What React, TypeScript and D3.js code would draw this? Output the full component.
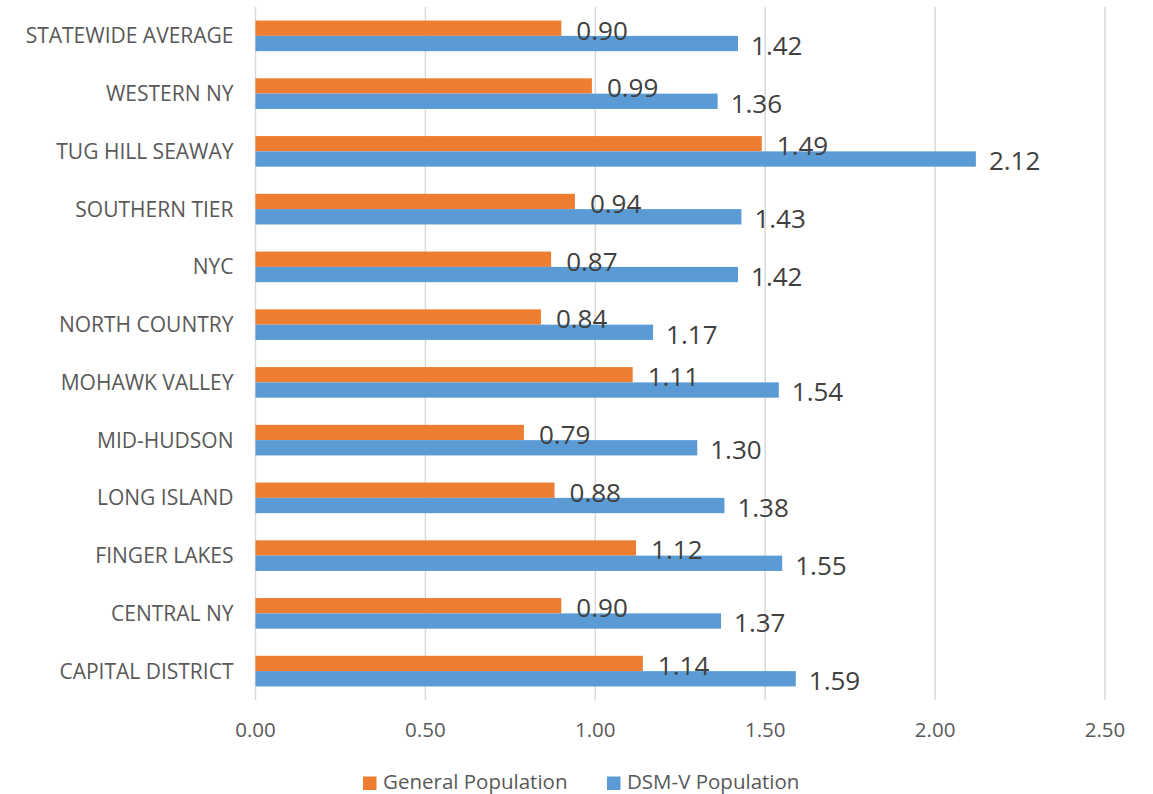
import * as React from 'react';
import * as d3 from 'd3';

const regions = ['STATEWIDE AVERAGE', 'WESTERN NY', 'TUG HILL SEAWAY', 'SOUTHERN TIER', 'NYC',
  'NORTH COUNTRY', 'MOHAWK VALLEY', 'MID-HUDSON', 'LONG ISLAND', 'FINGER LAKES',
  'CENTRAL NY', 'CAPITAL DISTRICT'];
const generalPop = [0.90, 0.99, 1.49, 0.94, 0.87, 0.84, 1.11, 0.79, 0.88, 1.12, 0.90, 1.14];
const dsmPop = [1.42, 1.36, 2.12, 1.43, 1.42, 1.17, 1.54, 1.30, 1.38, 1.55, 1.37, 1.59];
const xTicks = [0, 0.5, 1, 1.5, 2, 2.5];
const seriesNames = ['General Population', 'DSM-V Population'];
const colors = ['#ED7D31', '#5B9BD5'];

export default function App() {
  const width = 1153;
  const height = 794;
  const margin = {top: 7, right: 48, bottom: 94, left: 255.5};
  const innerW = width - margin.left - margin.right;
  const innerH = height - margin.top - margin.bottom;
  const font = '"Open Sans", "Noto Sans", sans-serif';

  const x = d3.scaleLinear().domain([0, 2.5]).range([0, innerW]);
  const y = d3.scaleBand().domain(regions).range([0, innerH]).paddingInner(0.47).paddingOuter(0.235);
  const sub = d3.scaleBand().domain(seriesNames).range([0, y.bandwidth()]);
  const fmt = d3.format('.2f');
  const series = [generalPop, dsmPop];

  // baseline shift so digits/caps sit centred on the target line
  const capMid = (fs: number) => fs * 0.357;

  return (
    <svg width={width} height={height} style={{position: 'absolute', left: 0, top: 0, fontFamily: font}}>
      <g transform={`translate(${margin.left},${margin.top})`}>
        {xTicks.map(t => (
          <g key={t}>
            <line x1={x(t)} x2={x(t)} y1={0} y2={innerH} stroke="#D9D9D9" strokeWidth={1.5} />
            <text x={x(t)} y={innerH + 30 + capMid(20.5)} textAnchor="middle"
              fill="#595959" fontSize={20.5}>{fmt(t)}</text>
          </g>
        ))}
        {regions.map((r, i) => (
          <g key={r} transform={`translate(0,${y(r)})`}>
            <text x={-22} y={y.bandwidth() / 2 + capMid(21)} textAnchor="end"
              fill="#595959" fontSize={21}>{r}</text>
            {series.map((s, j) => (
              <rect key={j} x={0} y={sub(seriesNames[j])} width={x(s[i])} height={sub.bandwidth()}
                fill={colors[j]} />
            ))}
          </g>
        ))}
        {regions.map((r, i) => (
          <g key={r + '-lbl'} transform={`translate(0,${y(r)})`}>
            {series.map((s, j) => (
              <text key={j} x={x(s[i]) + (j === 0 ? 15 : 13)}
                y={sub(seriesNames[j]) + sub.bandwidth() / 2 + 2 + capMid(26)}
                fill="#404040" fontSize={26}>{fmt(s[i])}</text>
            ))}
          </g>
        ))}
      </g>
      <g transform="translate(363,776.5)">
        {seriesNames.map((n, j) => (
          <g key={n} transform={`translate(${j * 244},0)`}>
            <rect width={13.5} height={13.5} fill={colors[j]} />
            <text x={20} y={5.5 + capMid(20.5)} fill="#595959" fontSize={20.5}>{n}</text>
          </g>
        ))}
      </g>
    </svg>
  );
}
